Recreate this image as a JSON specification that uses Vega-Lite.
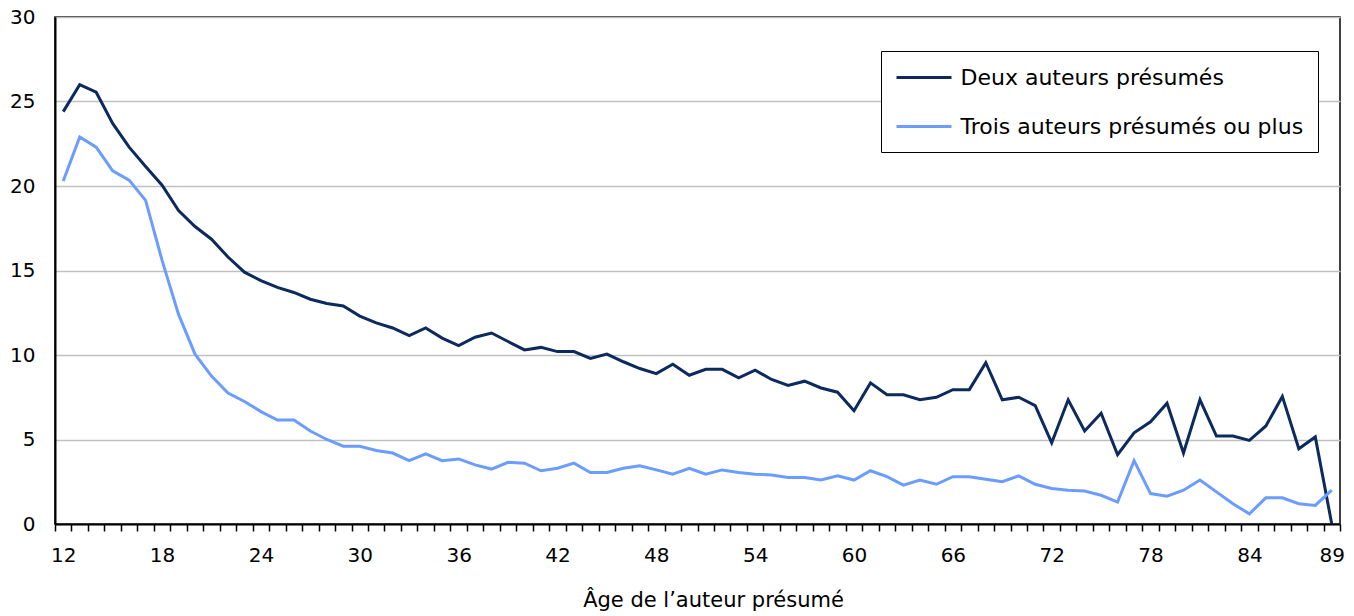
{
  "$schema": "https://vega.github.io/schema/vega-lite/v6.json",
  "width": 1285,
  "height": 507,
  "autosize": {"type": "none"},
  "padding": {"left": 55, "top": 17, "right": 14, "bottom": 92},
  "background": "white",
  "config": {
    "view": {"stroke": "black", "strokeWidth": 1.5},
    "font": "DejaVu Sans"
  },
  "data": {
    "values": [
      {"age":12,"serie":"Deux auteurs présumés","value":24.4},{"age":13,"serie":"Deux auteurs présumés","value":26.0},{"age":14,"serie":"Deux auteurs présumés","value":25.55},{"age":15,"serie":"Deux auteurs présumés","value":23.7},{"age":16,"serie":"Deux auteurs présumés","value":22.3},{"age":17,"serie":"Deux auteurs présumés","value":21.15},{"age":18,"serie":"Deux auteurs présumés","value":20.05},{"age":19,"serie":"Deux auteurs présumés","value":18.55},{"age":20,"serie":"Deux auteurs présumés","value":17.6},{"age":21,"serie":"Deux auteurs présumés","value":16.85},{"age":22,"serie":"Deux auteurs présumés","value":15.8},{"age":23,"serie":"Deux auteurs présumés","value":14.9},{"age":24,"serie":"Deux auteurs présumés","value":14.4},{"age":25,"serie":"Deux auteurs présumés","value":14.0},{"age":26,"serie":"Deux auteurs présumés","value":13.7},{"age":27,"serie":"Deux auteurs présumés","value":13.3},{"age":28,"serie":"Deux auteurs présumés","value":13.05},{"age":29,"serie":"Deux auteurs présumés","value":12.9},{"age":30,"serie":"Deux auteurs présumés","value":12.3},{"age":31,"serie":"Deux auteurs présumés","value":11.9},{"age":32,"serie":"Deux auteurs présumés","value":11.6},{"age":33,"serie":"Deux auteurs présumés","value":11.15},{"age":34,"serie":"Deux auteurs présumés","value":11.6},{"age":35,"serie":"Deux auteurs présumés","value":11.0},{"age":36,"serie":"Deux auteurs présumés","value":10.55},{"age":37,"serie":"Deux auteurs présumés","value":11.05},{"age":38,"serie":"Deux auteurs présumés","value":11.3},{"age":39,"serie":"Deux auteurs présumés","value":10.8},{"age":40,"serie":"Deux auteurs présumés","value":10.3},{"age":41,"serie":"Deux auteurs présumés","value":10.45},{"age":42,"serie":"Deux auteurs présumés","value":10.2},{"age":43,"serie":"Deux auteurs présumés","value":10.2},{"age":44,"serie":"Deux auteurs présumés","value":9.8},{"age":45,"serie":"Deux auteurs présumés","value":10.05},{"age":46,"serie":"Deux auteurs présumés","value":9.6},{"age":47,"serie":"Deux auteurs présumés","value":9.2},{"age":48,"serie":"Deux auteurs présumés","value":8.9},{"age":49,"serie":"Deux auteurs présumés","value":9.45},{"age":50,"serie":"Deux auteurs présumés","value":8.8},{"age":51,"serie":"Deux auteurs présumés","value":9.15},{"age":52,"serie":"Deux auteurs présumés","value":9.15},{"age":53,"serie":"Deux auteurs présumés","value":8.65},{"age":54,"serie":"Deux auteurs présumés","value":9.1},{"age":55,"serie":"Deux auteurs présumés","value":8.55},{"age":56,"serie":"Deux auteurs présumés","value":8.2},{"age":57,"serie":"Deux auteurs présumés","value":8.45},{"age":58,"serie":"Deux auteurs présumés","value":8.05},{"age":59,"serie":"Deux auteurs présumés","value":7.8},{"age":60,"serie":"Deux auteurs présumés","value":6.7},{"age":61,"serie":"Deux auteurs présumés","value":8.35},{"age":62,"serie":"Deux auteurs présumés","value":7.65},{"age":63,"serie":"Deux auteurs présumés","value":7.65},{"age":64,"serie":"Deux auteurs présumés","value":7.35},{"age":65,"serie":"Deux auteurs présumés","value":7.5},{"age":66,"serie":"Deux auteurs présumés","value":7.95},{"age":67,"serie":"Deux auteurs présumés","value":7.95},{"age":68,"serie":"Deux auteurs présumés","value":9.55},{"age":69,"serie":"Deux auteurs présumés","value":7.35},{"age":70,"serie":"Deux auteurs présumés","value":7.5},{"age":71,"serie":"Deux auteurs présumés","value":7.0},{"age":72,"serie":"Deux auteurs présumés","value":4.8},{"age":73,"serie":"Deux auteurs présumés","value":7.35},{"age":74,"serie":"Deux auteurs présumés","value":5.5},{"age":75,"serie":"Deux auteurs présumés","value":6.55},{"age":76,"serie":"Deux auteurs présumés","value":4.1},{"age":77,"serie":"Deux auteurs présumés","value":5.4},{"age":78,"serie":"Deux auteurs présumés","value":6.05},{"age":79,"serie":"Deux auteurs présumés","value":7.15},{"age":80,"serie":"Deux auteurs présumés","value":4.2},{"age":81,"serie":"Deux auteurs présumés","value":7.35},{"age":82,"serie":"Deux auteurs présumés","value":5.2},{"age":83,"serie":"Deux auteurs présumés","value":5.2},{"age":84,"serie":"Deux auteurs présumés","value":4.95},{"age":85,"serie":"Deux auteurs présumés","value":5.8},{"age":86,"serie":"Deux auteurs présumés","value":7.55},{"age":87,"serie":"Deux auteurs présumés","value":4.45},{"age":88,"serie":"Deux auteurs présumés","value":5.15},{"age":89,"serie":"Deux auteurs présumés","value":0},
      {"age":12,"serie":"Trois auteurs présumés ou plus","value":20.3},{"age":13,"serie":"Trois auteurs présumés ou plus","value":22.9},{"age":14,"serie":"Trois auteurs présumés ou plus","value":22.3},{"age":15,"serie":"Trois auteurs présumés ou plus","value":20.9},{"age":16,"serie":"Trois auteurs présumés ou plus","value":20.35},{"age":17,"serie":"Trois auteurs présumés ou plus","value":19.15},{"age":18,"serie":"Trois auteurs présumés ou plus","value":15.6},{"age":19,"serie":"Trois auteurs présumés ou plus","value":12.4},{"age":20,"serie":"Trois auteurs présumés ou plus","value":10.05},{"age":21,"serie":"Trois auteurs présumés ou plus","value":8.75},{"age":22,"serie":"Trois auteurs présumés ou plus","value":7.75},{"age":23,"serie":"Trois auteurs présumés ou plus","value":7.25},{"age":24,"serie":"Trois auteurs présumés ou plus","value":6.65},{"age":25,"serie":"Trois auteurs présumés ou plus","value":6.15},{"age":26,"serie":"Trois auteurs présumés ou plus","value":6.15},{"age":27,"serie":"Trois auteurs présumés ou plus","value":5.5},{"age":28,"serie":"Trois auteurs présumés ou plus","value":5.0},{"age":29,"serie":"Trois auteurs présumés ou plus","value":4.6},{"age":30,"serie":"Trois auteurs présumés ou plus","value":4.6},{"age":31,"serie":"Trois auteurs présumés ou plus","value":4.35},{"age":32,"serie":"Trois auteurs présumés ou plus","value":4.2},{"age":33,"serie":"Trois auteurs présumés ou plus","value":3.75},{"age":34,"serie":"Trois auteurs présumés ou plus","value":4.15},{"age":35,"serie":"Trois auteurs présumés ou plus","value":3.75},{"age":36,"serie":"Trois auteurs présumés ou plus","value":3.85},{"age":37,"serie":"Trois auteurs présumés ou plus","value":3.5},{"age":38,"serie":"Trois auteurs présumés ou plus","value":3.25},{"age":39,"serie":"Trois auteurs présumés ou plus","value":3.65},{"age":40,"serie":"Trois auteurs présumés ou plus","value":3.6},{"age":41,"serie":"Trois auteurs présumés ou plus","value":3.15},{"age":42,"serie":"Trois auteurs présumés ou plus","value":3.3},{"age":43,"serie":"Trois auteurs présumés ou plus","value":3.6},{"age":44,"serie":"Trois auteurs présumés ou plus","value":3.05},{"age":45,"serie":"Trois auteurs présumés ou plus","value":3.05},{"age":46,"serie":"Trois auteurs présumés ou plus","value":3.3},{"age":47,"serie":"Trois auteurs présumés ou plus","value":3.45},{"age":48,"serie":"Trois auteurs présumés ou plus","value":3.2},{"age":49,"serie":"Trois auteurs présumés ou plus","value":2.95},{"age":50,"serie":"Trois auteurs présumés ou plus","value":3.3},{"age":51,"serie":"Trois auteurs présumés ou plus","value":2.95},{"age":52,"serie":"Trois auteurs présumés ou plus","value":3.2},{"age":53,"serie":"Trois auteurs présumés ou plus","value":3.05},{"age":54,"serie":"Trois auteurs présumés ou plus","value":2.95},{"age":55,"serie":"Trois auteurs présumés ou plus","value":2.9},{"age":56,"serie":"Trois auteurs présumés ou plus","value":2.75},{"age":57,"serie":"Trois auteurs présumés ou plus","value":2.75},{"age":58,"serie":"Trois auteurs présumés ou plus","value":2.6},{"age":59,"serie":"Trois auteurs présumés ou plus","value":2.85},{"age":60,"serie":"Trois auteurs présumés ou plus","value":2.6},{"age":61,"serie":"Trois auteurs présumés ou plus","value":3.15},{"age":62,"serie":"Trois auteurs présumés ou plus","value":2.8},{"age":63,"serie":"Trois auteurs présumés ou plus","value":2.3},{"age":64,"serie":"Trois auteurs présumés ou plus","value":2.6},{"age":65,"serie":"Trois auteurs présumés ou plus","value":2.35},{"age":66,"serie":"Trois auteurs présumés ou plus","value":2.8},{"age":67,"serie":"Trois auteurs présumés ou plus","value":2.8},{"age":68,"serie":"Trois auteurs présumés ou plus","value":2.65},{"age":69,"serie":"Trois auteurs présumés ou plus","value":2.5},{"age":70,"serie":"Trois auteurs présumés ou plus","value":2.85},{"age":71,"serie":"Trois auteurs présumés ou plus","value":2.35},{"age":72,"serie":"Trois auteurs présumés ou plus","value":2.1},{"age":73,"serie":"Trois auteurs présumés ou plus","value":2.0},{"age":74,"serie":"Trois auteurs présumés ou plus","value":1.95},{"age":75,"serie":"Trois auteurs présumés ou plus","value":1.7},{"age":76,"serie":"Trois auteurs présumés ou plus","value":1.3},{"age":77,"serie":"Trois auteurs présumés ou plus","value":3.75},{"age":78,"serie":"Trois auteurs présumés ou plus","value":1.8},{"age":79,"serie":"Trois auteurs présumés ou plus","value":1.65},{"age":80,"serie":"Trois auteurs présumés ou plus","value":2.0},{"age":81,"serie":"Trois auteurs présumés ou plus","value":2.6},{"age":82,"serie":"Trois auteurs présumés ou plus","value":1.9},{"age":83,"serie":"Trois auteurs présumés ou plus","value":1.2},{"age":84,"serie":"Trois auteurs présumés ou plus","value":0.6},{"age":85,"serie":"Trois auteurs présumés ou plus","value":1.55},{"age":86,"serie":"Trois auteurs présumés ou plus","value":1.55},{"age":87,"serie":"Trois auteurs présumés ou plus","value":1.2},{"age":88,"serie":"Trois auteurs présumés ou plus","value":1.1},{"age":89,"serie":"Trois auteurs présumés ou plus","value":2.0}
    ]
  },
  "mark": {"type": "line", "strokeWidth": 3, "strokeJoin": "miter"},
  "encoding": {
    "x": {
      "field": "age",
      "type": "ordinal",
      "bandPosition": 0.5,
      "scale": {"type": "band", "paddingInner": 0, "paddingOuter": 0},
      "axis": {
        "title": "Âge de l’auteur présumé",
        "titleFont": "DejaVu Sans",
        "titleFontSize": 21,
        "titleFontWeight": "normal",
        "titleColor": "black",
        "titleX": 658,
        "titleY": 82,
        "titleBaseline": "alphabetic",
        "labelAngle": 0,
        "labelFont": "DejaVu Sans",
        "labelFontSize": 20,
        "labelColor": "black",
        "labelPadding": 14,
        "labelBaseline": "top",
        "labelExpr": "((datum.value - 12) % 6 == 0 || datum.value == 89) ? datum.label : ''",
        "labelOverlap": false,
        "tickBand": "extent",
        "tickSize": 7,
        "tickColor": "black",
        "tickWidth": 1.5,
        "domainColor": "black",
        "domainWidth": 2,
        "grid": false
      }
    },
    "y": {
      "field": "value",
      "type": "quantitative",
      "scale": {"domain": [0, 30], "nice": false},
      "axis": {
        "title": null,
        "values": [0, 5, 10, 15, 20, 25, 30],
        "labelFont": "DejaVu Sans",
        "labelFontSize": 20,
        "labelColor": "black",
        "labelPadding": 20,
        "ticks": false,
        "domainColor": "black",
        "domainWidth": 2,
        "gridColor": "#c0c0c0",
        "gridWidth": 1.5
      }
    },
    "color": {
      "field": "serie",
      "type": "nominal",
      "scale": {
        "domain": ["Deux auteurs présumés", "Trois auteurs présumés ou plus"],
        "range": ["#0c2a5e", "#6b9cff"]
      },
      "legend": {
        "title": null,
        "orient": "none",
        "legendX": 826,
        "legendY": 34,
        "direction": "vertical",
        "strokeColor": "black",
        "fillColor": "white",
        "padding": 14,
        "symbolType": "M-2.5,0H2.5",
        "symbolSize": 484,
        "symbolOffset": 16.5,
        "symbolStrokeWidth": 3,
        "labelFont": "DejaVu Sans",
        "labelFontSize": 22,
        "labelColor": "black",
        "labelOffset": 24,
        "rowPadding": 25,
        "labelLimit": 500
      }
    }
  }
}
